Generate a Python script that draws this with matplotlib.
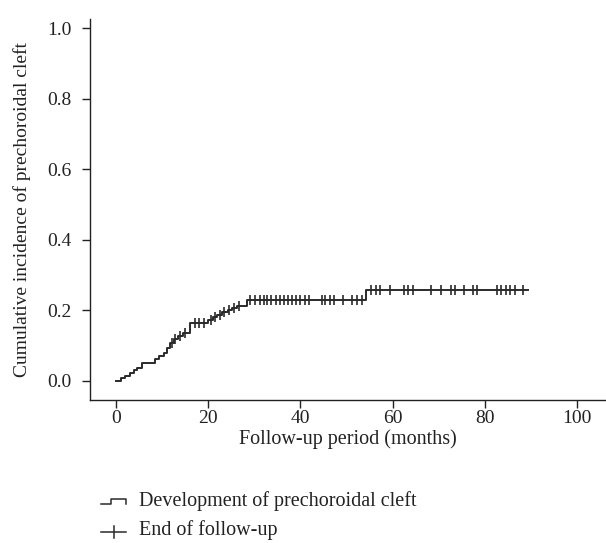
import numpy as np
import matplotlib
matplotlib.use("Agg")
import matplotlib.pyplot as plt
from matplotlib.lines import Line2D

# ── Data ────────────────────────────────────────────────────────────────────
EVENT_MONTHS = [0.0, 1.0, 2.0, 3.0, 4.0, 4.6, 5.7, 8.5, 9.3, 10.3, 11.0, 11.7,
                12.5, 13.5, 14.5, 16.1, 20.0, 21.0, 22.0, 23.0, 24.2, 25.2,
                26.2, 28.5, 54.3, 89.3]
CUM_INCIDENCE = [0.0, 0.008, 0.015, 0.023, 0.030, 0.038, 0.050, 0.061, 0.072,
                 0.080, 0.093, 0.107, 0.118, 0.126, 0.135, 0.165, 0.172, 0.180,
                 0.188, 0.195, 0.201, 0.206, 0.212, 0.230, 0.258, 0.258]

CENSOR_MONTHS = [12.1, 12.9, 13.9, 15.0, 17.2, 18.0, 19.0, 20.5, 21.5, 22.5,
                 23.5, 24.6, 25.6, 26.7,
                 29.1, 30.1, 31.2, 32.0, 32.8, 33.7, 34.6, 35.5, 36.4, 37.3,
                 38.2, 39.1, 40.0, 40.9, 41.8, 44.6, 45.4, 46.4, 47.2, 49.2,
                 51.2, 52.3, 53.4,
                 55.4, 56.3, 57.2, 59.4, 62.5, 63.4, 64.4, 68.4, 70.4, 72.6,
                 73.5, 75.5, 77.5, 78.4, 82.6, 83.6, 84.6, 85.5, 86.5, 88.4]

X_TICKS = [0, 20, 40, 60, 80, 100]
Y_TICKS = [0.0, 0.2, 0.4, 0.6, 0.8, 1.0]

LINE_COLOR = "#2a2a2a"
TEXT_COLOR = "#222222"
FS = 14.5

plt.rcParams.update({
    "font.family": ["Liberation Serif", "DejaVu Serif"],
    "font.size": FS,
})

fig = plt.figure(figsize=(6.06, 5.43), dpi=100)
ax = fig.add_axes([0.1485, 0.2634, 0.8515, 0.7017])

t = np.asarray(EVENT_MONTHS)
v = np.asarray(CUM_INCIDENCE)
ax.step(t, v, where="post", color=LINE_COLOR, linewidth=1.4)

# censor marks sit on the step curve
c = np.asarray(CENSOR_MONTHS)
cv = v[np.searchsorted(t, c, side="right") - 1]
ax.plot(c, cv, linestyle="none", marker="|", markersize=7.5,
        markeredgewidth=1.2, color=LINE_COLOR)

ax.set_xlim(-5.65, 106.3)
ax.set_ylim(-0.054, 1.026)
ax.set_xticks(X_TICKS)
ax.set_yticks(Y_TICKS)
ax.set_yticklabels([f"{y:.1f}" for y in Y_TICKS])
ax.tick_params(direction="out", length=6, width=1.0, colors=TEXT_COLOR,
               labelsize=FS - 0.5)
ax.tick_params(axis="x", pad=1.5)
ax.tick_params(axis="y", pad=7)
for side in ("top", "right"):
    ax.spines[side].set_visible(False)
for side in ("left", "bottom"):
    ax.spines[side].set_linewidth(1.0)
    ax.spines[side].set_color(TEXT_COLOR)

ax.set_xlabel("Follow-up period (months)", fontsize=FS, color=TEXT_COLOR,
              va="center")
ax.xaxis.set_label_coords(0.5, -0.103)
ax.set_ylabel("Cumulative incidence of prechoroidal cleft", fontsize=FS - 0.5,
              color=TEXT_COLOR, va="center")
ax.yaxis.set_label_coords(-0.132, 0.5)

# ── Legend below the plot (drawn by hand) ──────────────────────────────────
H = 543.0
W = 606.0


def fx(px):
    return px / W


def fy(py):
    return 1 - py / H


step_handle = Line2D([fx(101), fx(111), fx(111), fx(126), fx(126)],
                     [fy(504), fy(504), fy(499), fy(499), fy(504)],
                     transform=fig.transFigure, color=LINE_COLOR, lw=1.1)
cens_line = Line2D([fx(101), fx(126)], [fy(532), fy(532)],
                   transform=fig.transFigure, color=LINE_COLOR, lw=1.1)
cens_tick = Line2D([fx(113.5), fx(113.5)], [fy(526), fy(538)],
                   transform=fig.transFigure, color=LINE_COLOR, lw=1.1)
for art in (step_handle, cens_line, cens_tick):
    fig.add_artist(art)

fig.text(fx(139), fy(501), "Development of prechoroidal cleft", fontsize=FS,
         va="center", ha="left", color=TEXT_COLOR)
fig.text(fx(139), fy(530), "End of follow-up", fontsize=FS,
         va="center", ha="left", color=TEXT_COLOR)

fig.savefig("out.png", dpi=100)
